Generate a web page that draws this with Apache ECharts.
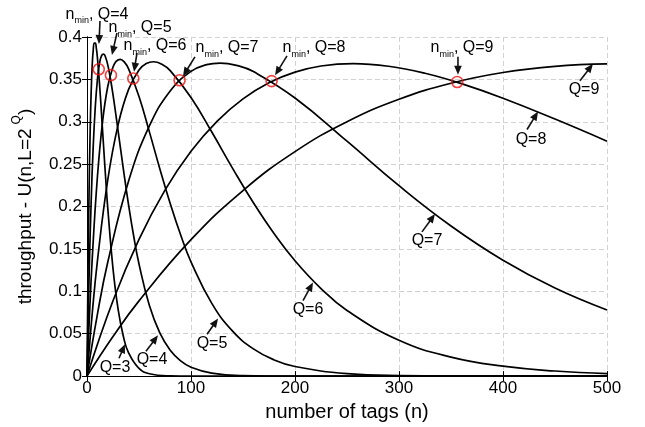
<!DOCTYPE html>
<html>
<head>
<meta charset="utf-8">
<script src="https://cdn.jsdelivr.net/npm/echarts@6/dist/echarts.min.js"></script>
<style>html,body{margin:0;padding:0;background:#fff}#c{width:645px;height:427px}</style>
</head>
<body>
<div id="c"></div>
<script>
// ---- data ----
const xTicks = [0, 100, 200, 300, 400, 500];
const yTicks = [0, 0.05, 0.1, 0.15, 0.2, 0.25, 0.3, 0.35, 0.4];
const curveNames = ['Q=3', 'Q=4', 'Q=5', 'Q=6', 'Q=7', 'Q=8', 'Q=9'];

const q3 = [[0,0],[1,0.125],[2,0.2188],[3,0.2871],[4,0.3350],[5,0.3664],[6,0.3847],[7,0.3927],[8,0.3927],[9,0.3866],[10,0.3758],[12,0.3453],[14,0.3084],[16,0.2699],[18,0.2325],[20,0.1977],[25,0.1268],[30,0.0780],[35,0.0467],[40,0.0274],[50,0.0090],[60,0.0028],[80,0.0003],[100,0],[500,0]];
const q4 = [[0,0],[1,0.0625],[2,0.1172],[4,0.2060],[6,0.2716],[8,0.3183],[10,0.3496],[12,0.3688],[14,0.3781],[16,0.3798],[18,0.3756],[20,0.3668],[22,0.3546],[25,0.3320],[30,0.2885],[35,0.2438],[40,0.2018],[45,0.1644],[50,0.1323],[60,0.0832],[70,0.0509],[80,0.0305],[90,0.0180],[100,0.0105],[120,0.0035],[150,0.0006],[200,0],[500,0]];
const q5 = [[0,0],[2,0.0606],[5,0.1376],[10,0.2348],[15,0.3005],[20,0.3419],[25,0.3646],[28,0.3713],[32,0.3737],[36,0.3703],[40,0.3624],[50,0.3298],[60,0.2881],[70,0.2447],[80,0.2036],[90,0.1667],[100,0.1348],[120,0.0858],[140,0.0530],[160,0.0321],[180,0.0191],[200,0.0113],[250,0.0029],[300,0.0007],[400,0],[500,0]];
const q6 = [[0,0],[5,0.0734],[10,0.1356],[20,0.2317],[30,0.2969],[40,0.3382],[50,0.3611],[57,0.3687],[64,0.3708],[72,0.3678],[80,0.3603],[100,0.3287],[120,0.2879],[140,0.2451],[160,0.2044],[180,0.1679],[200,0.1361],[225,0.1033],[250,0.0774],[300,0.0423],[350,0.0224],[400,0.0117],[450,0.0060],[500,0.0030]];
const q7 = [[0,0],[10,0.0728],[20,0.1346],[40,0.2302],[60,0.2951],[80,0.3364],[100,0.3594],[115,0.3674],[128,0.3693],[145,0.3662],[160,0.3592],[200,0.3281],[250,0.2771],[300,0.2246],[350,0.1771],[400,0.1367],[450,0.1039],[500,0.0780]];
const q8 = [[0,0],[25,0.0889],[50,0.1612],[75,0.2193],[100,0.2651],[125,0.3005],[150,0.3270],[175,0.3460],[200,0.3585],[225,0.3658],[256,0.3686],[290,0.3655],[325,0.3572],[360,0.3450],[400,0.3278],[450,0.3032],[500,0.2771]];
const q9 = [[0,0],[25,0.0466],[50,0.0887],[100,0.1609],[150,0.2189],[200,0.2648],[250,0.3001],[300,0.3266],[350,0.3455],[400,0.3581],[450,0.3654],[500,0.3682]];

// n_min points (red circles)
const nMinPoints = [[11.3,0.362],[23,0.355],[44.5,0.351],[89,0.349],[177.5,0.348],[356,0.347]];
const nMinNames = ['Q=4','Q=5','Q=6','Q=7','Q=8','Q=9'];
// annotation anchor positions (data units): label centre, arrow tail, arrow tip
const nMinLabelPos = [[9.6,0.427],[51,0.4106],[65.4,0.3894],[134.6,0.3871],[218.3,0.3871],[360.6,0.3871]];
const nMinArrowTail = [[12.5,0.4188],[28.8,0.4047],[48.1,0.3812],[103.8,0.3766],[192.3,0.3777],[356.7,0.3766]];
const nMinArrowTip = [[11.5,0.3918],[24,0.3789],[45.2,0.3589],[92.3,0.3537],[180.8,0.3548],[356.7,0.3554]];
const curveLabelPos = [[26.9,0.0106],[62.5,0.0199],[120.2,0.0387],[212.5,0.0786],[326.9,0.1595],[426.9,0.2792],[477.9,0.3378]];
const curveArrowTail = [[30.8,0.0211],[56.7,0.0293],[115.4,0.0493],[207.7,0.0891],[322.1,0.1701],[423.1,0.2909],[474,0.3484]];
const curveArrowTip = [[36.5,0.0375],[68.3,0.0481],[126,0.0680],[217.3,0.1103],[334.6,0.1912],[433.7,0.3120],[486.5,0.3683]];

// ---- chart ----
const FONT = 'Liberation Sans, Arial, sans-serif';
const curves = [q3, q4, q5, q6, q7, q8, q9];

const arrowData = [];
nMinArrowTail.forEach((t, i) => arrowData.push([t[0], t[1], nMinArrowTip[i][0], nMinArrowTip[i][1]]));
curveArrowTail.forEach((t, i) => arrowData.push([t[0], t[1], curveArrowTip[i][0], curveArrowTip[i][1]]));

const labelData = [];
const labelTexts = [];
nMinLabelPos.forEach((p, i) => { labelData.push([p[0], p[1], labelTexts.length]); labelTexts.push('{n|n}{m|min}{n|, ' + nMinNames[i] + '}'); });
curveLabelPos.forEach((p, i) => { labelData.push([p[0], p[1], labelTexts.length]); labelTexts.push('{n|' + curveNames[i] + '}'); });

const series = curves.map((d, i) => ({
  name: curveNames[i], type: 'line', data: d, smooth: 0.45,
  showSymbol: false, symbol: 'none', clip: true,
  lineStyle: { color: '#000', width: 1.7 }, z: 3
}));

series.push({
  type: 'scatter', data: nMinPoints, symbol: 'circle', symbolSize: 11,
  itemStyle: { color: 'rgba(0,0,0,0)', borderColor: '#ee1111', borderWidth: 1.6 }, z: 5
});

series.push({
  type: 'custom', data: arrowData, z: 6, clip: false,
  renderItem: function (params, api) {
    const p0 = api.coord([api.value(0), api.value(1)]);
    const p1 = api.coord([api.value(2), api.value(3)]);
    const dx = p1[0] - p0[0], dy = p1[1] - p0[1];
    const len = Math.sqrt(dx * dx + dy * dy) || 1;
    const ux = dx / len, uy = dy / len;
    const hl = 9, hw = 3.8;
    const bx = p1[0] - ux * hl, by = p1[1] - uy * hl;
    return {
      type: 'group',
      children: [
        { type: 'line', shape: { x1: p0[0], y1: p0[1], x2: bx + ux * 2, y2: by + uy * 2 }, style: { stroke: '#111', lineWidth: 1.6 } },
        { type: 'polygon', shape: { points: [[p1[0], p1[1]], [bx - uy * hw, by + ux * hw], [bx + uy * hw, by - ux * hw]] }, style: { fill: '#111' } }
      ]
    };
  }
});

series.push({
  type: 'custom', data: labelData, z: 7, clip: false,
  renderItem: function (params, api) {
    const p = api.coord([api.value(0), api.value(1)]);
    return {
      type: 'text', x: p[0], y: p[1],
      style: {
        text: labelTexts[api.value(2)], align: 'center', verticalAlign: 'middle',
        fill: '#000', fontFamily: FONT,
        rich: {
          n: { fontSize: 16, fontFamily: FONT, lineHeight: 22, fill: '#000' },
          m: { fontSize: 9, fontFamily: FONT, lineHeight: 10, verticalAlign: 'bottom', fill: '#000' }
        }
      }
    };
  }
});

const axisLineStyle = { show: true, lineStyle: { color: '#000', width: 1 } };
const tickStyle = { show: true, inside: true, length: 5, lineStyle: { color: '#000', width: 1 } };

const option = {
  animation: false,
  backgroundColor: '#fff',
  grid: { left: 87, right: 38, top: 37, bottom: 49, containLabel: false },
  xAxis: [{
    type: 'value', min: xTicks[0], max: xTicks[xTicks.length - 1], interval: xTicks[1] - xTicks[0],
    position: 'bottom',
    name: 'number of tags (n)', nameLocation: 'middle', nameGap: 18,
    nameTextStyle: { fontSize: 20, fontFamily: FONT, color: '#000' },
    axisLine: axisLineStyle, axisTick: tickStyle,
    axisLabel: { fontSize: 17, fontFamily: FONT, color: '#000', margin: 4 },
    splitLine: { show: true, lineStyle: { color: '#d2d2d2', type: [5, 3], width: 1 } }
  }, {
    type: 'value', min: xTicks[0], max: xTicks[xTicks.length - 1], interval: xTicks[1] - xTicks[0],
    position: 'top', axisLine: axisLineStyle, axisTick: tickStyle,
    axisLabel: { show: false }, splitLine: { show: false }
  }],
  yAxis: [{
    type: 'value', min: yTicks[0], max: yTicks[yTicks.length - 1], interval: 0.05,
    position: 'left',
    name: '{t|throughput - U(n,L=2}{s|Q}{t|)}', nameLocation: 'middle', nameGap: 46,
    nameTextStyle: {
      color: '#000', fontFamily: FONT,
      rich: {
        t: { fontSize: 19, fontFamily: FONT, lineHeight: 30, color: '#000' },
        s: { fontSize: 12, fontFamily: FONT, lineHeight: 12, verticalAlign: 'top', padding: [0, 0, 0, 4], color: '#000' }
      }
    },
    axisLine: axisLineStyle, axisTick: tickStyle,
    axisLabel: { fontSize: 17, fontFamily: FONT, color: '#000', margin: 5 },
    splitLine: { show: true, lineStyle: { color: '#d2d2d2', type: [5, 3], width: 1 } }
  }, {
    type: 'value', min: yTicks[0], max: yTicks[yTicks.length - 1], interval: 0.05,
    position: 'right', axisLine: axisLineStyle, axisTick: tickStyle,
    axisLabel: { show: false }, splitLine: { show: false }
  }],
  series: series
};

const chart = echarts.init(document.getElementById('c'), null, { renderer: 'canvas' });
chart.setOption(option);
</script>
</body>
</html>
